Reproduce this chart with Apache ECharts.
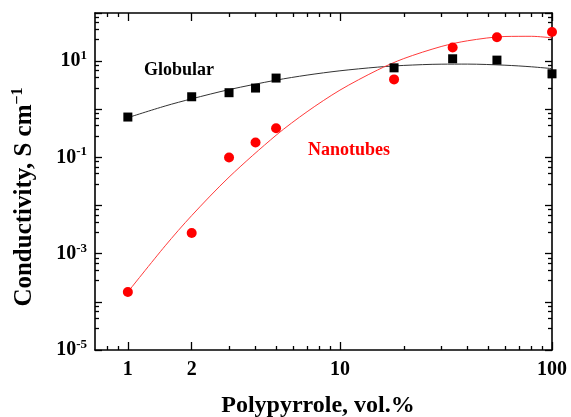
<!DOCTYPE html>
<html>
<head>
<meta charset="utf-8">
<script src="https://cdn.jsdelivr.net/npm/echarts@6/dist/echarts.min.js"></script>
<style>
  html, body { margin: 0; padding: 0; background: #fff; }
  #chart { width: 571px; height: 417px; }
</style>
</head>
<body>
<div id="chart"></div>
<script>
// measured points
const xPoints = [1, 2, 3, 4, 5, 18, 34, 55, 100];
const globular = [0.69, 1.82, 2.21, 2.76, 4.45, 7.26, 11.2, 10.5, 5.46];
const nanotubes = [1.6e-4, 2.7e-3, 0.10, 0.204, 0.405, 4.18, 19.2, 31.4, 40.4];

// fitted curves
const xCurve = [1, 1.5, 2, 3, 5, 7, 10, 15, 20, 30, 40, 60, 80, 100];
const globularFit = [0.67, 1.17, 1.65, 2.56, 4.03, 5.13, 6.3, 7.5, 8.15, 8.65, 8.68, 8.24, 7.63, 7.0];
const nanotubesFit = [1.6e-4, 1.46e-3, 6.2e-3, 0.039, 0.289, 0.89, 2.5, 6.5, 11.3, 20.1, 26.5, 32.5, 32.8, 30.5];

// axis ticks and labels
const xLabels = [1, 2, 10, 100];
const xMajor = [1, 2, 10, 100];
const xMinor = [0.8, 0.9, 3, 4, 5, 6, 7, 8, 9, 20, 30, 40, 50, 60, 70, 80, 90];
const yLabels = [1e-5, 1e-3, 1e-1, 10];
const yMajor = [1e-5, 1e-4, 1e-3, 1e-2, 1e-1, 1, 10, 100];
const yMinorSteps = [2.8, 4.6, 6.4, 8.2];

let yMinor = [];
for (let i = 0; i < yMajor.length - 1; i++) {
  yMinorSteps.forEach(function (k) { yMinor.push(k * yMajor[i]); });
}

const font = 'Liberation Serif';
let chart = echarts.init(document.getElementById('chart'));

function pair(arrX, arrY) {
  return arrX.map(function (x, i) { return [x, arrY[i]]; });
}

function xAx(pos, ticks, len, main) {
  return {
    type: 'log', logBase: 10, min: 0.7, max: 100, position: pos,
    axisLine: { show: main, lineStyle: { color: '#000', width: 1.6 } },
    axisTick: { show: true, inside: true, length: len, customValues: ticks,
      lineStyle: { color: '#000', width: 1.3 } },
    axisLabel: main && pos == 'bottom' ? {
      show: true, customValues: xLabels, margin: 10,
      color: '#000', fontFamily: font, fontWeight: 'bold', fontSize: 20,
      formatter: function (v) { return String(Math.round(v)); }
    } : { show: false },
    splitLine: { show: false },
    minorTick: { show: false }
  };
}

function yAx(pos, ticks, len, main) {
  return {
    type: 'log', logBase: 10, min: 1e-5, max: 100, position: pos,
    axisLine: { show: main, lineStyle: { color: '#000', width: 1.6 } },
    axisTick: { show: true, inside: true, length: len, customValues: ticks,
      lineStyle: { color: '#000', width: 1.3 } },
    axisLabel: main && pos == 'left' ? {
      show: true, customValues: yLabels, margin: 8,
      formatter: function (v) {
        return '{b|10}{s|' + Math.round(Math.log10(v)) + '}';
      },
      rich: {
        b: { color: '#000', fontFamily: font, fontWeight: 'bold', fontSize: 20, lineHeight: 24 },
        s: { color: '#000', fontFamily: font, fontWeight: 'bold', fontSize: 13, lineHeight: 24, verticalAlign: 'top' }
      }
    } : { show: false },
    splitLine: { show: false },
    minorTick: { show: false }
  };
}

let option = {
  backgroundColor: '#fff',
  animation: false,
  grid: { left: 95, right: 19, top: 13, bottom: 67 },
  xAxis: [
    xAx('bottom', xMajor, 8, true),
    xAx('bottom', xMinor, 4, false),
    xAx('top', xMajor, 8, true),
    xAx('top', xMinor, 4, false)
  ],
  yAxis: [
    yAx('left', yMajor, 7, true),
    yAx('left', yMinor, 4, false),
    yAx('right', yMajor, 7, true),
    yAx('right', yMinor, 4, false)
  ],
  graphic: [
    {
      type: 'text', x: 318, y: 406,
      style: { text: 'Polypyrrole, vol.%', fill: '#000', font: 'bold 24px "Liberation Serif"',
        align: 'center', verticalAlign: 'middle' }
    },
    {
      type: 'text', x: 25, y: 197, rotation: Math.PI / 2,
      style: {
        text: '{a|Conductivity, S cm}{s|\u22121}',
        align: 'center', verticalAlign: 'middle',
        rich: {
          a: { fill: '#000', fontFamily: font, fontWeight: 'bold', fontSize: 25, lineHeight: 30 },
          s: { fill: '#000', fontFamily: font, fontWeight: 'bold', fontSize: 16, lineHeight: 30, verticalAlign: 'top' }
        }
      }
    },
    {
      type: 'text', x: 144, y: 70,
      style: { text: 'Globular', fill: '#000', font: 'bold 18px "Liberation Serif"',
        align: 'left', verticalAlign: 'middle' }
    },
    {
      type: 'text', x: 308, y: 150,
      style: { text: 'Nanotubes', fill: '#ff0000', font: 'bold 18px "Liberation Serif"',
        align: 'left', verticalAlign: 'middle' }
    }
  ],
  series: [
    {
      name: 'Globular fit', type: 'line', data: pair(xCurve, globularFit),
      smooth: 0.3, showSymbol: false, lineStyle: { color: '#333', width: 1 }, z: 1
    },
    {
      name: 'Nanotubes fit', type: 'line', data: pair(xCurve, nanotubesFit),
      smooth: 0.3, showSymbol: false, lineStyle: { color: '#ff3b3b', width: 1 }, z: 1
    },
    {
      name: 'Globular', type: 'scatter', data: pair(xPoints, globular),
      symbol: 'rect', symbolSize: 9, itemStyle: { color: '#000', opacity: 1 }, z: 3
    },
    {
      name: 'Nanotubes', type: 'scatter', data: pair(xPoints, nanotubes),
      symbol: 'circle', symbolSize: 10, itemStyle: { color: '#ff0000', opacity: 1 }, z: 3
    }
  ]
};

option && chart.setOption(option);
</script>
</body>
</html>
